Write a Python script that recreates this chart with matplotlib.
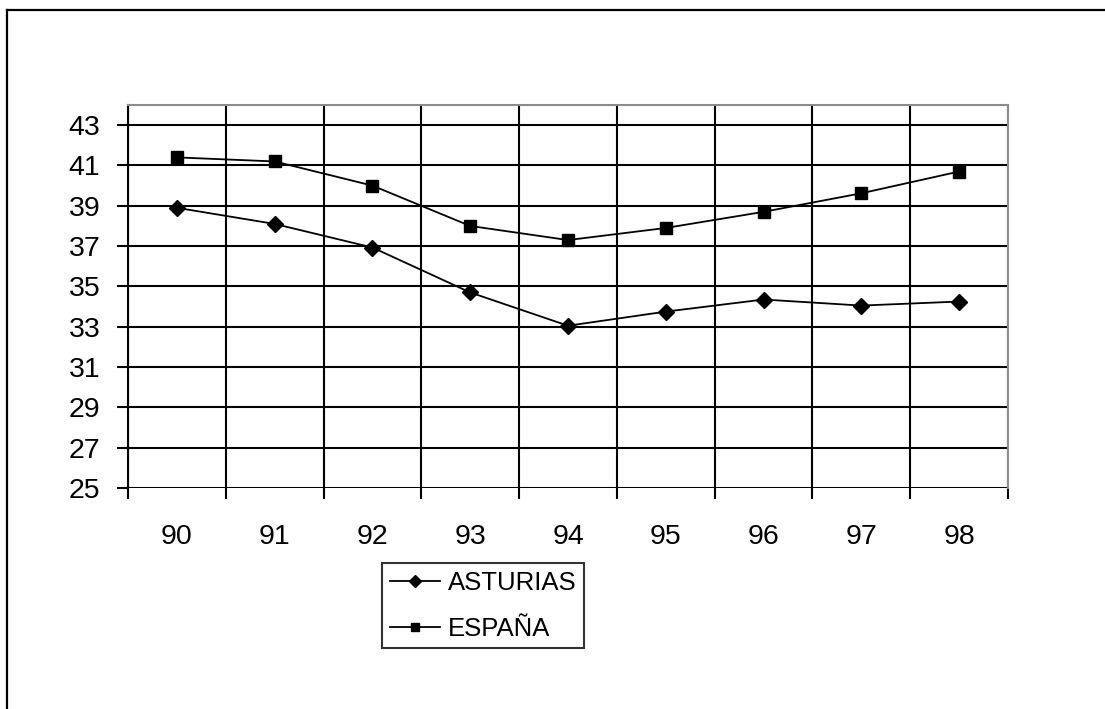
import matplotlib
matplotlib.use("Agg")
import matplotlib.pyplot as plt
from matplotlib.lines import Line2D
import numpy as np

years = ["90", "91", "92", "93", "94", "95", "96", "97", "98"]
asturias = [38.9, 38.1, 36.93, 34.7, 33.05, 33.75, 34.35, 34.05, 34.25]
espana = [41.4, 41.2, 40.0, 38.0, 37.3, 37.9, 38.7, 39.62, 40.7]
yticks = [25, 27, 29, 31, 33, 35, 37, 39, 41, 43]

plt.rcParams['font.family'] = ['Liberation Sans', 'DejaVu Sans']

W, H = 1105, 709
fig = plt.figure(figsize=(W / 100, H / 100), dpi=100)
fig.patch.set_facecolor('white')

# outer border (only top and left visible)
fig.add_artist(Line2D([7 / W, 7 / W], [0, 1 - 10 / H], transform=fig.transFigure,
                      color='black', lw=1.6, solid_capstyle='projecting'))
fig.add_artist(Line2D([7 / W, 1], [1 - 10 / H, 1 - 10 / H], transform=fig.transFigure,
                      color='black', lw=1.6, solid_capstyle='projecting'))

left, right, top, bottom = 128, 1008, 105, 488
ax = fig.add_axes([left / W, (H - bottom) / H, (right - left) / W, (bottom - top) / H])

x = np.arange(len(years))
ax.set_xlim(-0.5, len(years) - 0.5)
ax.set_ylim(25, 44)

# gridlines
for yv in yticks:
    ax.axhline(yv, color='black', lw=1.5, zorder=1)
for xb in np.arange(-0.5, len(years), 1.0):
    ax.axvline(xb, color='black', lw=1.5, zorder=1)

ax.plot(x, asturias, color='black', lw=1.3, marker='D', markersize=8, zorder=3, label='ASTURIAS')
ax.plot(x, espana, color='black', lw=1.3, marker='s', markersize=8, zorder=3, label='ESPAÑA')

ax.set_yticks(yticks)
ax.set_yticklabels([str(v) for v in yticks], fontsize=20.5)
ax.tick_params(axis='y', direction='out', length=8, width=1.5, pad=12, color='black')

ax.set_xticks(x)
ax.set_xticklabels(years, fontsize=20.5)
ax.set_xticks(np.arange(-0.5, len(years), 1.0), minor=True)
ax.tick_params(axis='x', which='major', length=0, pad=26)
ax.tick_params(axis='x', which='minor', direction='out', length=8, width=1.5, color='black')

for s in ['top', 'right']:
    ax.spines[s].set_color('#8c8c8c')
    ax.spines[s].set_linewidth(1.5)
ax.spines['left'].set_color('black')
ax.spines['left'].set_linewidth(1.5)
ax.spines['bottom'].set_visible(False)

leg = ax.legend(loc='upper left', bbox_to_anchor=(382 / W, (H - 563) / H),
                bbox_transform=fig.transFigure, fontsize=18.5, frameon=True,
                fancybox=False, edgecolor='black', handlelength=1.95,
                handletextpad=0.3, borderpad=0.3, labelspacing=0.85,
                borderaxespad=0, markerscale=0.75)
leg.get_frame().set_linewidth(1.5)

fig.savefig('out.png', dpi=100, facecolor='white')
